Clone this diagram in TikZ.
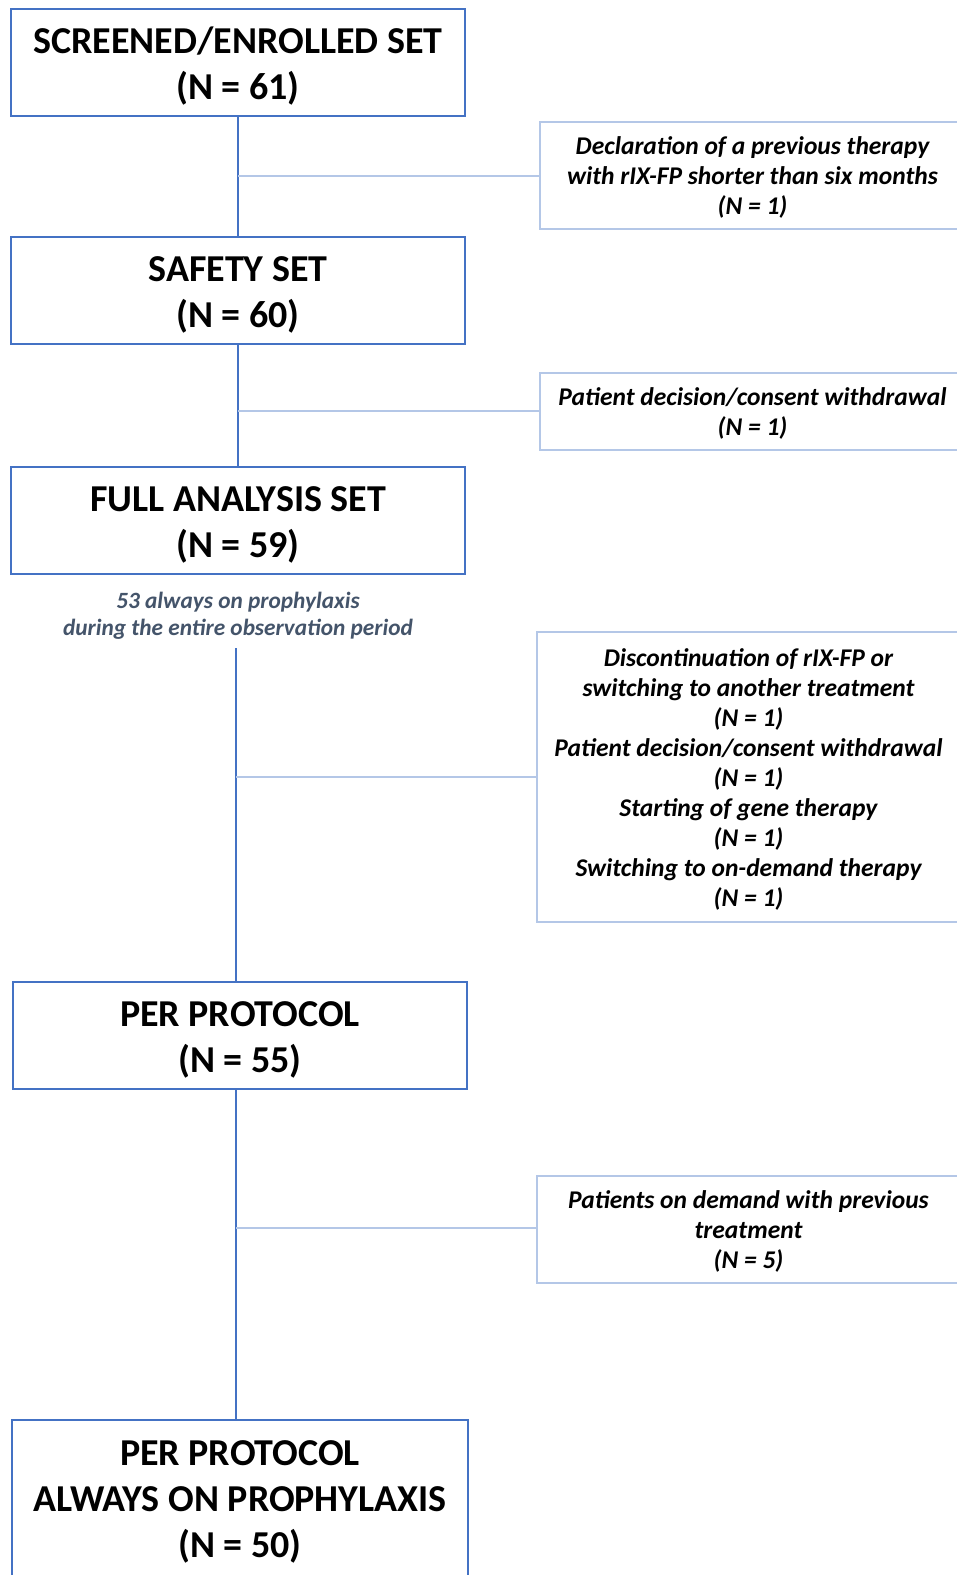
\documentclass[tikz,border=0pt]{standalone}
\usepackage{fontspec}
\setmainfont{Carlito}
\definecolor{mainblue}{HTML}{4472C4}
\definecolor{lightblue}{HTML}{B4C7E7}
\definecolor{slate}{HTML}{44546A}
\newcommand\mlines[2]{\raisebox{#1}[\height][\depth]{\begin{tabular}{@{}c@{}}#2\end{tabular}}}
\begin{document}
\begin{tikzpicture}[x=1pt,y=-1pt,
  mainbox/.style={draw=mainblue,line width=2pt,minimum width=454pt,minimum height=107pt,align=center,inner sep=0pt,font=\fontsize{38}{46}\selectfont\bfseries},
  sidebox/.style={draw=lightblue,line width=2pt,align=center,inner sep=0pt,font=\fontsize{25.5}{30}\selectfont\bfseries\itshape},
  trunk/.style={draw=mainblue,line width=1.8pt},
  branch/.style={draw=lightblue,line width=1.8pt}]
\useasboundingbox (0,0) rectangle (957,1575);
\clip (0,0) rectangle (957,1575);
\fill[white] (0,0) rectangle (957,1575);
% main boxes
\node[mainbox] (b1) at (238,62.5) {\mlines{-5pt}{SCREENED/ENROLLED SET\\(N = 61)}};
\node[mainbox] (b2) at (238,290.5) {\mlines{-5pt}{SAFETY SET\\(N = 60)}};
\node[mainbox] (b3) at (238,520.5) {\mlines{-5pt}{FULL ANALYSIS SET\\(N = 59)}};
\node[mainbox] (b4) at (240,1035) {\mlines{-5pt}{PER PROTOCOL\\(N = 55)}};
\node[mainbox,draw=none,minimum height=152pt] (b5) at (240,1497) {\mlines{-5pt}{PER PROTOCOL\\ALWAYS ON PROPHYLAXIS\\(N = 50)}};
\draw[mainblue,line width=2pt] ([yshift=-40pt]b5.south west) -- (b5.north west) -- (b5.north east) -- ([yshift=-40pt]b5.south east);
% annotation
\node[align=center,text=slate,font=\fontsize{23.3}{27}\selectfont\bfseries\itshape] (ann) at (238,616) {53 always on prophylaxis\\during the entire observation period};
% side boxes
\node[sidebox,minimum width=425pt,minimum height=107pt] (s1) at (752.5,175.5) {\mlines{-3pt}{Declaration of a previous therapy\\with rIX-FP shorter than six months\\(N = 1)}};
\node[sidebox,minimum width=425pt,minimum height=77pt] (s2) at (752.5,411.5) {\mlines{-3pt}{Patient decision/consent withdrawal\\(N = 1)}};
\node[sidebox,minimum width=423pt,minimum height=290pt] (s3) at (748.5,777) {\mlines{-3pt}{Discontinuation of rIX-FP or\\switching to another treatment\\(N = 1)\\Patient decision/consent withdrawal\\(N = 1)\\Starting of gene therapy\\(N = 1)\\Switching to on-demand therapy\\(N = 1)}};
\node[sidebox,minimum width=423pt,minimum height=107pt] (s4) at (748.5,1229.5) {\mlines{-3pt}{Patients on demand with previous\\treatment\\(N = 5)}};
% trunk
\draw[trunk] (b1.south) -- (b2.north);
\draw[trunk] (b2.south) -- (b3.north);
\coordinate (t3) at (236,648);
\coordinate (t4) at (236,1088);
\draw[trunk] (t3) -- (t3 |- b4.north);
\draw[trunk] (t4) -- (t4 |- b5.north);
% branches
\coordinate (j1) at (238,176);
\coordinate (j2) at (238,411);
\coordinate (j3) at (236,777);
\coordinate (j4) at (236,1228);
\draw[branch] (j1) -- (j1 -| s1.west);
\draw[branch] (j2) -- (j2 -| s2.west);
\draw[branch] (j3) -- (j3 -| s3.west);
\draw[branch] (j4) -- (j4 -| s4.west);
\end{tikzpicture}
\end{document}
